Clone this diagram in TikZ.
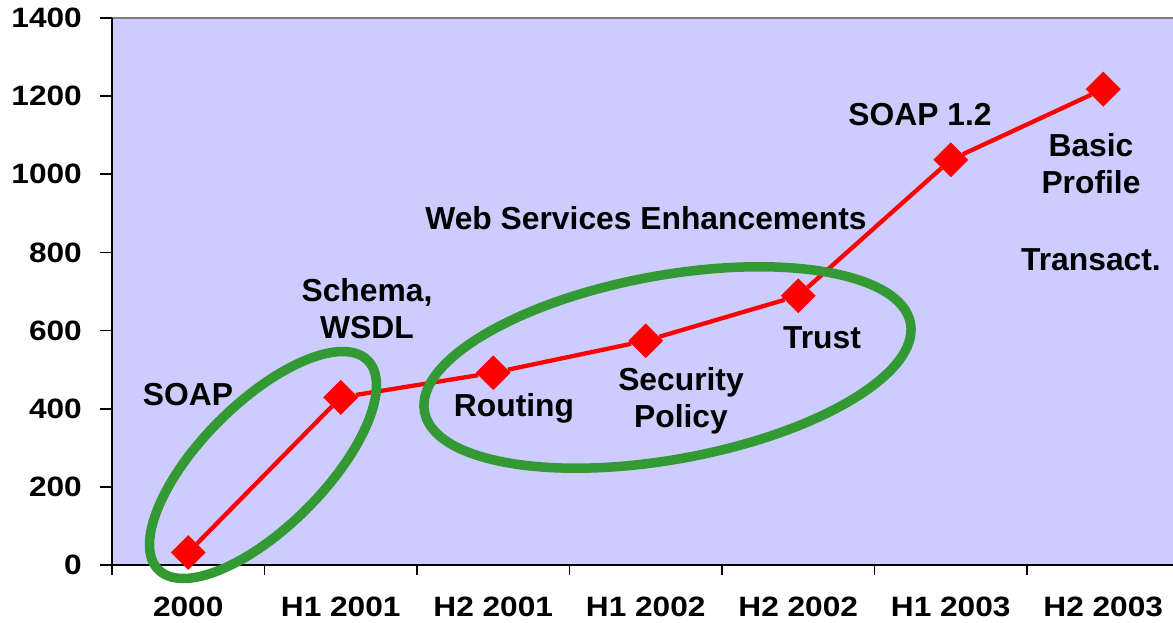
\documentclass[tikz,border=0pt]{standalone}
\usepackage{fontspec}
\setmainfont{Liberation Sans}
\newfontfamily\axisfont[FakeStretch=1.13]{Liberation Sans}
\usetikzlibrary{shapes.geometric}
\definecolor{plotbg}{RGB}{204,204,255}
\definecolor{ringgreen}{RGB}{51,153,51}

\begin{document}
\begin{tikzpicture}[x=1pt,y=1pt,
  point/.style={diamond,fill=red,inner sep=0pt,minimum size=35pt},
  trend/.style={red,line width=4.3pt},
  ring/.style={ringgreen,line width=9.5pt},
  axis/.style={black,line width=1.8pt},
  tag/.style={font=\fontsize{31.8}{37}\selectfont\bfseries,align=center,inner sep=0pt},
  ticklabel/.style={font=\axisfont\fontsize{28}{32}\selectfont\bfseries,inner sep=0pt}]%
  \pgfmathsetmacro{\xstep}{152.5}
  \pgfmathsetmacro{\ystep}{547/1400}
  \useasboundingbox (-112,-58) rectangle (1061,565);
  \fill[plotbg] (0,0) rectangle (1061,547);
  \draw[gray,line width=1.5pt] (0,547) -- (1061,547);
  % axes and ticks
  \draw[axis] (0,0) -- (0,547);
  \draw[axis] (0,0) -- (1061,0);
  \foreach \v in {0,200,...,1400} {
    \draw[axis] (-12,\v*\ystep) -- (0,\v*\ystep);
    \node[ticklabel,anchor=east] (y\v) at (-30,\v*\ystep) {\v};
  }
  \foreach \i in {0,...,6}
  \draw[axis] (\i*\xstep,0) -- (\i*\xstep,-10);
  \foreach \t[count=\i from 0] in {2000,H1 2001,H2 2001,H1 2002,H2 2002,H1 2003,H2 2003}
  \node[ticklabel] (x\i) at ({(\i+0.5)*\xstep},-42) {\t};

  % data points
  \foreach \v[count=\i from 0] in {32,429,492,574,689,1037,1218}
  \node[point] (p\i) at ({(\i+0.5)*\xstep},\v*\ystep) {};
  \draw[trend] (p0) -- (p1) -- (p2) -- (p3) -- (p4) -- (p5) -- (p6);

  % labels
  \node[tag] (soap) at (76,170) {SOAP};
  \node[tag] (schema) at (255,256) {Schema,\\WSDL};
  \node[tag] (routing) at (402,157) {Routing};
  \node[tag] (policy) at (569,164) {Security\\Policy};
  \node[tag] (trust) at (710,227) {Trust};
  \node[tag] (wse) at (534,347) {Web Services Enhancements};
  \node[tag] (soap12) at (808,450) {SOAP 1.2};
  \node[tag] (basic) at (979,401) {Basic\\Profile};
  \node[tag] (transact) at (979,305) {Transact.};

  % groupings
  \draw[ring,rotate around={45:(151,100)}] (151,100) ellipse [x radius=148,y radius=62];
  \draw[ring,rotate around={10.3:(555.5,197.5)}] (555.5,197.5) ellipse [x radius=247,y radius=92];
\end{tikzpicture}
\end{document}
